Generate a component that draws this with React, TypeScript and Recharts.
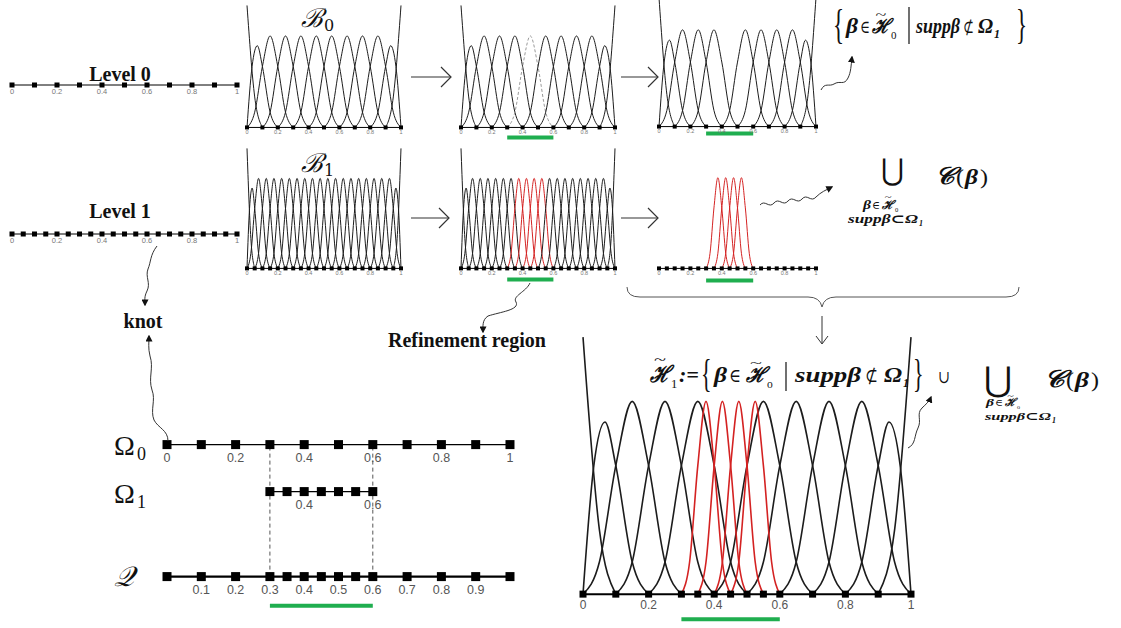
import React from 'react';
import { LineChart, Line, XAxis, YAxis, LabelList } from 'recharts';

// knot vectors on [0, 1]
const LEVEL0_KNOTS = [0, 0.1, 0.2, 0.3, 0.4, 0.5, 0.6, 0.7, 0.8, 0.9, 1];
const LEVEL1_KNOTS = [
  0, 0.05, 0.1, 0.15, 0.2, 0.25, 0.3, 0.35, 0.4, 0.45, 0.5,
  0.55, 0.6, 0.65, 0.7, 0.75, 0.8, 0.85, 0.9, 0.95, 1,
];
const OMEGA1_KNOTS = [0.3, 0.35, 0.4, 0.45, 0.5, 0.55, 0.6];
const Q_KNOTS = [0, 0.1, 0.2, 0.3, 0.35, 0.4, 0.45, 0.5, 0.55, 0.6, 0.7, 0.8, 0.9, 1];

// tick labels
const AXIS_LABELS = [0, 0.2, 0.4, 0.6, 0.8, 1];
const OMEGA1_LABELS = [0.4, 0.6];
const Q_LABELS = [0.1, 0.2, 0.3, 0.4, 0.5, 0.6, 0.7, 0.8, 0.9];

// quadratic B-spline shapes: position in knot spans -> function value
const HUMP_SPANS = [0, 0.5, 1, 1.5, 2, 2.5, 3];
const HUMP_VALUES = [0, 0.125, 0.5, 0.75, 0.5, 0.125, 0];
const EDGE_SPANS = [0, 0.5, 1];
const EDGE_VALUES = [1, 0.25, 0];
const NEAR_EDGE_SPANS = [0, 0.33, 0.67, 1, 1.5, 2];
const NEAR_EDGE_VALUES = [0, 0.5, 0.67, 0.5, 0.125, 0];

// left ends of the interior basis functions
const LEVEL0_STARTS = [0, 0.1, 0.2, 0.3, 0.4, 0.5, 0.6, 0.7];
const LEVEL1_STARTS = [
  0, 0.05, 0.1, 0.15, 0.2, 0.25, 0.3, 0.35, 0.4,
  0.45, 0.5, 0.55, 0.6, 0.65, 0.7, 0.75, 0.8, 0.85,
];
const REFINED_STARTS = [0.3, 0.35, 0.4, 0.45]; // children with supp in Omega_1
const REMOVED_START = 0.3; // level-0 function with supp in Omega_1
const REFINEMENT_REGION = [0.3, 0.6];

const BLACK = '#1c1c1c';
const RED = '#d42222';
const GREEN = '#1fae4f';
const SERIF = '"Liberation Serif", "DejaVu Serif", serif';
const MATH = '"DejaVu Serif", serif';
const SANS = '"Liberation Sans", Arial, sans-serif';

type Pt = { x: number; y: number };
type Curve = { id: string; pts: Pt[]; color: string; dashed?: boolean };

const shape = (at: number, h: number, spans: number[], values: number[], mirror = false): Pt[] => {
  const pts = spans.map((s, i) => ({ x: mirror ? at - s * h : at + s * h, y: values[i] }));
  return mirror ? pts.reverse() : pts;
};

type Style = (start: number) => { color: string; dashed?: boolean } | null;

function basis(h: number, starts: number[], style: Style = () => ({ color: BLACK }), edges = true): Curve[] {
  const out: Curve[] = [];
  if (edges) {
    out.push({ id: 'eL', pts: shape(0, h, EDGE_SPANS, EDGE_VALUES), color: BLACK });
    out.push({ id: 'nL', pts: shape(0, h, NEAR_EDGE_SPANS, NEAR_EDGE_VALUES), color: BLACK });
  }
  starts.forEach((s) => {
    const st = style(s);
    if (st) out.push({ id: `h${s}`, pts: shape(s, h, HUMP_SPANS, HUMP_VALUES), ...st });
  });
  if (edges) {
    out.push({ id: 'nR', pts: shape(1, h, NEAR_EDGE_SPANS, NEAR_EDGE_VALUES, true), color: BLACK });
    out.push({ id: 'eR', pts: shape(1, h, EDGE_SPANS, EDGE_VALUES, true), color: BLACK });
  }
  return out;
}

const near = (a: number, b: number) => Math.abs(a - b) < 1e-9;

const knotRow = (knots: number[], labels: number[], y = 0) =>
  knots.map((k) => {
    const l = labels.find((v) => near(v, k));
    return { x: k, y, label: l === undefined ? undefined : String(l) };
  });

const squareDot = (s: number) => (p: any) =>
  <rect key={`sq-${p.index}`} x={p.cx - s / 2} y={p.cy - s / 2} width={s} height={s} fill="#000" />;

interface PanelProps {
  x0: number;
  x1: number;
  base: number;
  unit: number;
  curves?: Curve[];
  knots: number[];
  labels?: number[];
  sq: number;
  knotW?: number;
  curveW?: number;
  labelSize: number;
  labelGap: number;
  labelColor?: string;
  barGap?: number;
  barW?: number;
}

function Panel({
  x0, x1, base, unit, curves = [], knots, labels = AXIS_LABELS, sq, knotW = 1, curveW = 1,
  labelSize, labelGap, labelColor = '#777', barGap, barW = 4,
}: PanelProps) {
  const pad = 14;
  const high = 1.02;
  const low = -((barGap ?? labelSize + labelGap) + 10) / unit;
  const w = x1 - x0 + pad * 2;
  const h = (high - low) * unit + pad * 2;
  const barY = barGap === undefined ? 0 : -barGap / unit;
  return (
    <div style={{ position: 'absolute', left: x0 - pad, top: base - high * unit - pad }}>
      <LineChart width={w} height={h} margin={{ top: pad, right: pad, bottom: pad, left: pad }}>
        <XAxis type="number" dataKey="x" domain={[0, 1]} hide />
        <YAxis type="number" domain={[low, high]} hide />
        {curves.map((c) => (
          <Line
            key={c.id}
            data={c.pts}
            dataKey="y"
            type="monotone"
            stroke={c.color}
            strokeWidth={curveW}
            strokeDasharray={c.dashed ? '3 2' : undefined}
            dot={false}
            isAnimationActive={false}
          />
        ))}
        {barGap !== undefined && (
          <Line
            data={REFINEMENT_REGION.map((x) => ({ x, y: barY }))}
            dataKey="y"
            stroke={GREEN}
            strokeWidth={barW}
            dot={false}
            isAnimationActive={false}
          />
        )}
        <Line
          data={knotRow(knots, labels)}
          dataKey="y"
          stroke="#000"
          strokeWidth={knotW}
          dot={squareDot(sq)}
          isAnimationActive={false}
        >
          <LabelList dataKey="label" position="bottom" offset={labelGap} fontSize={labelSize} fill={labelColor} fontFamily={SANS} />
        </Line>
      </LineChart>
    </div>
  );
}

// rows of the knot diagram: Q at 0, Omega_0 at 1
const ROW_Q = 0;
const ROW_OMEGA1 = 0.644;
const ROW_OMEGA0 = 1;

function OmegaChart() {
  const x0 = 167, x1 = 510, top = 445, bottom = 577;
  const unit = bottom - top;
  const pad = 14;
  const high = 1.05, low = -0.32;
  const labelProps = { dataKey: 'label', position: 'bottom' as const, offset: 9, fontSize: 12.5, fill: '#555', fontFamily: SANS };
  return (
    <div style={{ position: 'absolute', left: x0 - pad, top: bottom - high * unit - pad }}>
      <LineChart width={x1 - x0 + pad * 2} height={(high - low) * unit + pad * 2} margin={{ top: pad, right: pad, bottom: pad, left: pad }}>
        <XAxis type="number" dataKey="x" domain={[0, 1]} hide />
        <YAxis type="number" domain={[low, high]} hide />
        {REFINEMENT_REGION.map((x) => (
          <Line
            key={`d${x}`}
            data={[{ x, y: ROW_Q }, { x, y: ROW_OMEGA0 }]}
            dataKey="y"
            stroke="#555"
            strokeWidth={1}
            strokeDasharray="4 3"
            dot={false}
            isAnimationActive={false}
          />
        ))}
        <Line data={REFINEMENT_REGION.map((x) => ({ x, y: -0.22 }))} dataKey="y" stroke={GREEN} strokeWidth={4} dot={false} isAnimationActive={false} />
        <Line data={knotRow(LEVEL0_KNOTS, AXIS_LABELS, ROW_OMEGA0)} dataKey="y" stroke="#000" strokeWidth={1.3} dot={squareDot(9)} isAnimationActive={false}>
          <LabelList {...labelProps} />
        </Line>
        <Line data={knotRow(OMEGA1_KNOTS, OMEGA1_LABELS, ROW_OMEGA1)} dataKey="y" stroke="#000" strokeWidth={1.3} dot={squareDot(9)} isAnimationActive={false}>
          <LabelList {...labelProps} />
        </Line>
        <Line data={knotRow(Q_KNOTS, Q_LABELS, ROW_Q)} dataKey="y" stroke="#000" strokeWidth={2.2} dot={squareDot(9)} isAnimationActive={false}>
          <LabelList {...labelProps} />
        </Line>
      </LineChart>
    </div>
  );
}

type TP = {
  x: number; y: number; s: number; b?: boolean; i?: boolean; f?: string;
  a?: 'start' | 'middle'; w?: number; children: React.ReactNode;
};

const T = (p: TP) => (
  <text
    x={p.x}
    y={p.y}
    fontSize={p.s}
    fontWeight={p.b ? 'bold' : 'normal'}
    fontStyle={p.i ? 'italic' : 'normal'}
    fontFamily={p.f ?? SERIF}
    textAnchor={p.a ?? 'start'}
    textLength={p.w}
    lengthAdjust={p.w ? 'spacingAndGlyphs' : undefined}
    fill="#111"
  >
    {p.children}
  </text>
);

// calligraphic H with a tilde and a subscript, w = glyph width
const HTilde = ({ x, y, s, w, sub }: { x: number; y: number; s: number; w: number; sub: string }) => (
  <g>
    <T x={x} y={y} s={s} b i f={MATH} w={w}>ℋ</T>
    <T x={x + w * 0.2} y={y - s * 0.72} s={s * 0.6} w={w * 0.6}>~</T>
    <T x={x + w + 1} y={y + s * 0.28} s={s * 0.55}>{sub}</T>
  </g>
);

// stretched brace
const Brace = ({ x, y, s, ch }: { x: number; y: number; s: number; ch: string }) => (
  <g transform={`translate(${x},${y}) scale(0.55,1)`}>
    <T x={0} y={0} s={s}>{ch}</T>
  </g>
);

function Overlay() {
  const arrow = (x0: number, x1: number, y: number) => (
    <g key={`${x0}-${y}`} stroke="#333" strokeWidth={1.2} fill="none">
      <path d={`M${x0},${y} L${x1},${y}`} />
      <path d={`M${x1 - 10},${y - 10} L${x1},${y} L${x1 - 10},${y + 10}`} />
    </g>
  );
  const wig = { stroke: '#333', strokeWidth: 1, fill: 'none', markerEnd: 'url(#tip)' };
  return (
    <svg width={1121} height={628} style={{ position: 'absolute', left: 0, top: 0, pointerEvents: 'none' }}>
      <defs>
        <marker id="tip" viewBox="0 0 10 10" refX="8" refY="5" markerWidth="7" markerHeight="7" orient="auto">
          <path d="M0,0 L10,5 L0,10 z" fill="#111" />
        </marker>
      </defs>

      {arrow(411, 451, 77)}
      {arrow(621, 658, 77)}
      {arrow(411, 449, 218)}
      {arrow(621, 658, 218)}

      {/* wavy pointers */}
      <path {...wig} d="M821,90 C825,82 829,87 834,84 C840,80 844,86 848,78 C851,72 851,66 852,57" />
      <path {...wig} d="M760,205 C765,199 769,209 774,203 C779,197 783,207 788,201 C793,195 797,205 802,199 C807,193 811,203 816,197 C821,192 826,190 832,187" />
      <path {...wig} d="M157,246 C150,255 151,262 148,269 C145,277 151,283 147,291 C144,297 145,300 145,305" />
      <path {...wig} d="M168,441 C168,430 158,428 154,420 C150,410 156,400 152,390 C148,378 154,368 150,356 C148,348 149,343 149,336" />
      <path {...wig} d="M530,283 C526,292 512,296 516,302 C520,310 500,312 488,316 C482,320 483,326 483,332" />
      <path {...wig} d="M908,448 C916,444 914,436 918,428 C922,420 916,414 922,408 C926,404 929,402 931,397" />

      {/* brace over the two level-1 results */}
      <path d="M627,287 Q627,297 640,297 L808,297 Q820,297 822,307 Q824,297 836,297 L1006,297 Q1019,297 1019,287" stroke="#555" strokeWidth={1} fill="none" />
      <path d="M822,316 L822,343" stroke="#333" strokeWidth={1} />
      <path d="M816,336 L822,344 L828,336" stroke="#333" strokeWidth={1} fill="none" />

      {/* labels */}
      <T x={120} y={81} s={20} b a="middle">Level 0</T>
      <T x={120} y={218} s={20} b a="middle">Level 1</T>
      <T x={143} y={328} s={20} b a="middle">knot</T>
      <T x={388} y={347} s={20} b>Refinement region</T>

      <T x={301} y={27} s={26} i f={MATH}>ℬ</T>
      <T x={324} y={31} s={16} f={MATH}>0</T>
      <T x={301} y={172} s={26} i f={MATH}>ℬ</T>
      <T x={324} y={176} s={16} f={MATH}>1</T>

      <T x={114} y={455} s={28}>Ω</T>
      <T x={137} y={460} s={18}>0</T>
      <T x={114} y={503} s={28}>Ω</T>
      <T x={137} y={508} s={18}>1</T>
      <T x={114} y={586} s={28} i f={MATH}>𝒬</T>

      {/* {β ∈ H0 | supp β ⊄ Ω1} */}
      <Brace x={833} y={38} s={42} ch="{" />
      <T x={846} y={33} s={21} b i w={12}>β</T>
      <T x={860} y={33} s={18} w={10}>∈</T>
      <HTilde x={872} y={33} s={20} w={18} sub="0" />
      <path d="M909,7 L909,44" stroke="#111" strokeWidth={1.2} />
      <T x={916} y={33} s={21} b i w={44}>suppβ</T>
      <T x={963} y={33} s={18} w={11}>⊄</T>
      <T x={978} y={33} s={21} b i w={15}>Ω</T>
      <T x={994} y={38} s={12} b i>1</T>
      <Brace x={1016} y={38} s={42} ch="}" />

      {/* union of the children */}
      <T x={881} y={180} s={30} f='"DejaVu Sans", sans-serif' w={23}>⋃</T>
      <T x={935} y={184} s={24} b i f={MATH} w={19}>𝒞</T>
      <T x={956} y={184} s={22} w={8}>(</T>
      <T x={965} y={184} s={22} b i w={13}>β</T>
      <T x={980} y={184} s={22} w={8}>)</T>
      <T x={863} y={209} s={12} b i w={8}>β</T>
      <T x={872} y={209} s={11} w={8}>∈</T>
      <HTilde x={882} y={209} s={12} w={12} sub="0" />
      <T x={848} y={223} s={12} b i w={70}>suppβ⊂Ω</T>
      <T x={919} y={226} s={8} b i>1</T>

      {/* H1 := ... */}
      <HTilde x={650} y={382} s={23} w={20} sub="1" />
      <T x={679} y={382} s={22} b i w={20}>:=</T>
      <Brace x={701} y={387} s={40} ch="{" />
      <T x={714} y={382} s={22} b i w={13}>β</T>
      <T x={729} y={382} s={19} w={12}>∈</T>
      <HTilde x={746} y={382} s={21} w={20} sub="o" />
      <path d="M786,362 L786,391" stroke="#111" strokeWidth={1.2} />
      <T x={795} y={382} s={22} b i w={66}>suppβ</T>
      <T x={865} y={382} s={19} w={13}>⊄</T>
      <T x={884} y={382} s={22} b i w={18}>Ω</T>
      <T x={903} y={387} s={12} b i>1</T>
      <Brace x={913} y={387} s={40} ch="}" />
      <T x={938} y={383} s={18} w={12}>∪</T>
      <T x={984} y={391} s={34} f='"DejaVu Sans", sans-serif' w={28}>⋃</T>
      <T x={1044} y={387} s={24} b i f={MATH} w={20}>𝒞</T>
      <T x={1066} y={387} s={22} w={8}>(</T>
      <T x={1075} y={387} s={22} b i w={14}>β</T>
      <T x={1091} y={387} s={22} w={8}>)</T>
      <T x={986} y={406} s={11} b i w={8}>β</T>
      <T x={995} y={406} s={10} w={8}>∈</T>
      <HTilde x={1005} y={406} s={11} w={11} sub="o" />
      <T x={985} y={420} s={11} b i w={66}>suppβ⊂Ω</T>
      <T x={1052} y={423} s={8} b i>1</T>
    </svg>
  );
}

const level0 = basis(0.1, LEVEL0_STARTS);
const level0Marked = basis(0.1, LEVEL0_STARTS, (s) => (near(s, REMOVED_START) ? { color: '#9a9a9a', dashed: true } : { color: BLACK }));
const level0Kept = basis(0.1, LEVEL0_STARTS, (s) => (near(s, REMOVED_START) ? null : { color: BLACK }));
const level1 = basis(0.05, LEVEL1_STARTS);
const level1Marked = basis(0.05, LEVEL1_STARTS, (s) => ({ color: REFINED_STARTS.some((r) => near(r, s)) ? RED : BLACK }));
const children = basis(0.05, REFINED_STARTS, () => ({ color: RED }), false);
const hierarchical = [...level0Kept, ...children.map((c) => ({ ...c, id: `c${c.id}` }))];

export default function App() {
  const small = { sq: 4, labelSize: 5.5, labelGap: 3, curveW: 1 };
  return (
    <div style={{ position: 'absolute', left: 0, top: 0, width: 1121, height: 628, background: '#fff', overflow: 'hidden' }}>
      <Panel x0={12} x1={237} base={85} unit={100} knots={LEVEL0_KNOTS} sq={5} labelSize={7.5} labelGap={4} />
      <Panel x0={12} x1={237} base={234} unit={100} knots={LEVEL1_KNOTS} sq={5} labelSize={7.5} labelGap={4} />

      <Panel x0={247} x1={401} base={127} unit={122} curves={level0} knots={LEVEL0_KNOTS} {...small} />
      <Panel x0={461} x1={615} base={127} unit={122} curves={level0Marked} knots={LEVEL0_KNOTS} barGap={10} {...small} />
      <Panel x0={659} x1={816} base={127} unit={129} curves={level0Kept} knots={LEVEL0_KNOTS} barGap={7} {...small} />

      <Panel x0={247} x1={401} base={268} unit={120} curves={level1} knots={LEVEL1_KNOTS} {...small} />
      <Panel x0={461} x1={615} base={268} unit={120} curves={level1Marked} knots={LEVEL1_KNOTS} barGap={11} {...small} />
      <Panel x0={659} x1={816} base={268} unit={121} curves={children} knots={LEVEL1_KNOTS} barGap={12} {...small} />

      <Panel
        x0={583}
        x1={911}
        base={594}
        unit={257}
        curves={hierarchical}
        knots={Q_KNOTS}
        labels={AXIS_LABELS}
        sq={7}
        knotW={2}
        curveW={1.6}
        labelSize={12}
        labelGap={6}
        labelColor="#555"
        barGap={25}
        barW={4}
      />

      <OmegaChart />
      <Overlay />
    </div>
  );
}
